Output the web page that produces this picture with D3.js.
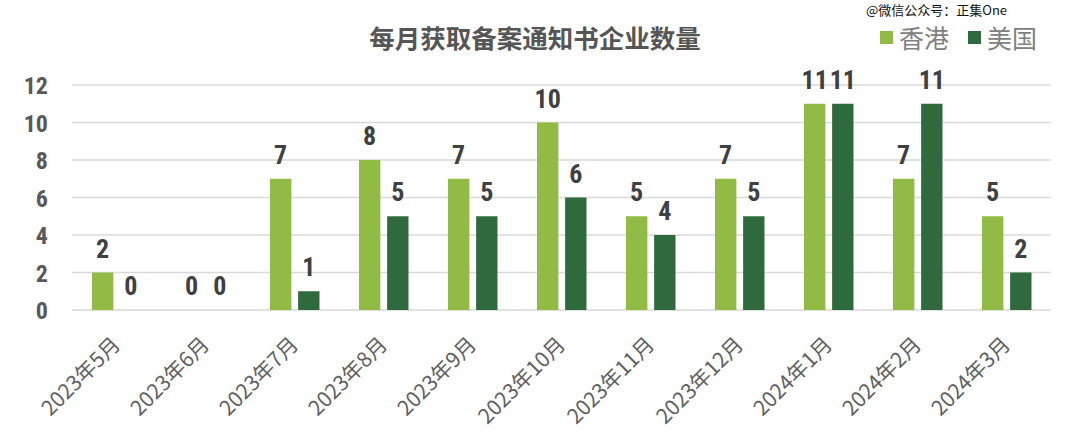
<!DOCTYPE html>
<html><head><meta charset="utf-8">
<script src="https://cdn.jsdelivr.net/npm/d3@7"></script>
<style>body{margin:0;background:#fff;}svg{display:block;}</style>
</head><body>
<svg id="c" width="1080" height="438"></svg>
<script>
const categories = ["2023年5月","2023年6月","2023年7月","2023年8月","2023年9月","2023年10月","2023年11月","2023年12月","2024年1月","2024年2月","2024年3月"];
const hongKong = [2,0,7,8,7,10,5,7,11,7,5];
const usa = [0,0,1,5,5,6,4,5,11,11,2];
const yTicks = [0,2,4,6,8,10,12];
const seriesNames = ["香港","美国"];
const colors = ["#92bb45","#2e6a3e"];

(function(){
const svg = d3.select("#c");
const mLeft = 72, mRight = 1051, mTop = 85, mBottom = 310;
const x = d3.scaleBand().domain(categories).range([mLeft, mRight]);
const x1 = d3.scaleBand().domain([0,1]).range([-24.5, 25]).paddingInner(0.24);
const y = d3.scaleLinear().domain([0,12]).range([mBottom, mTop]);
const numFont = "'Liberation Sans Narrow','Roboto Condensed','Roboto',sans-serif";
const cjk = "'Noto Sans CJK SC',sans-serif";

svg.append("g").selectAll("line").data(yTicks).join("line")
  .attr("x1", mLeft).attr("x2", mRight)
  .attr("y1", d=>y(d)).attr("y2", d=>y(d))
  .attr("stroke", "#d9d9d9").attr("stroke-width", 1.5);

const yAxis = svg.append("g").attr("transform", `translate(${mLeft-24},0)`)
  .call(d3.axisLeft(y).tickValues(yTicks).tickSize(0).tickPadding(0));
yAxis.select(".domain").remove();
yAxis.selectAll("text").attr("font-family", numFont).attr("font-weight","bold")
  .attr("font-size", 24).attr("fill","#595959").attr("dy","0.36em");

const xAxis = svg.append("g").attr("transform", `translate(0,${mBottom})`)
  .call(d3.axisBottom(x).tickSize(0).tickPadding(0));
xAxis.select(".domain").remove();
xAxis.selectAll("text")
  .attr("font-family", cjk).attr("font-size",21).attr("fill","#606060")
  .attr("text-anchor","end").attr("dy", 0).attr("y",0).attr("x",0)
  .attr("transform","translate(5,36) rotate(-45)");

const series = [hongKong, usa];
series.forEach((vals, si) => {
  const g = svg.append("g");
  g.selectAll("rect").data(vals).join("rect")
    .attr("x", (d,i)=>x(categories[i]) + x.bandwidth()/2 + x1(si))
    .attr("width", x1.bandwidth())
    .attr("y", d=>y(d))
    .attr("height", d=>y(0)-y(d))
    .attr("fill", colors[si]);
  g.selectAll("text").data(vals).join("text")
    .attr("x", (d,i)=>x(categories[i]) + x.bandwidth()/2 + x1(si) + x1.bandwidth()/2)
    .attr("y", d=>y(d) - 15)
    .attr("text-anchor","middle")
    .attr("font-family", numFont).attr("font-weight","bold")
    .attr("font-size", 26).attr("fill","#404040")
    .text(d=>d);
});

svg.append("text").attr("x", 535).attr("y", 48).attr("text-anchor","middle")
  .attr("font-family", cjk).attr("font-weight","bold")
  .attr("font-size", 25.5).attr("fill","#555555").text("每月获取备案通知书企业数量");

const legX = [880, 968];
seriesNames.forEach((n, i) => {
  svg.append("rect").attr("x", legX[i]).attr("y", 31).attr("width", 13).attr("height", 13).attr("fill", colors[i]);
  svg.append("text").attr("x", legX[i] + 19).attr("y", 48)
    .attr("font-family", cjk).attr("font-size", 25).attr("fill","#808080").text(n);
});

svg.append("text").attr("x", 866).attr("y", 15)
  .attr("font-family", cjk).attr("font-size", 13)
  .attr("fill","#111").attr("stroke","#fff").attr("stroke-width",2.5).attr("paint-order","stroke")
  .text("@微信公众号：正集One");
})();
</script>
</body></html>
